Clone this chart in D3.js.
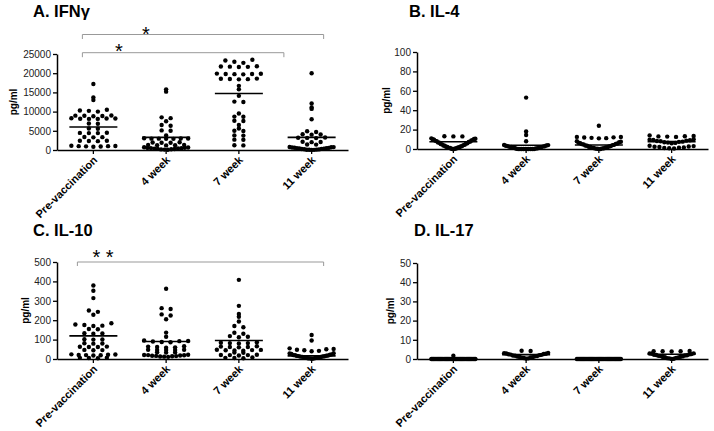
<!DOCTYPE html>
<html><head><meta charset="utf-8">
<script src="https://cdn.jsdelivr.net/npm/d3@7"></script>
<style>
body{margin:0;background:#fff}
svg{display:block;font-family:Arial,"Liberation Sans",Helvetica,sans-serif}
</style>
</head><body>
<svg id="chart" width="714" height="431"></svg>
<script>
// ---------------- DATA ----------------
const categories = ["Pre-vaccination", "4 week", "7 week", "11 week"];

// A. IFNγ (pg/ml)
const ifngPre = [17200, 13700, 13000, 10500, 10300, 10200, 10000, 9000, 8950, 8900, 8850, 8800,
  8250, 8200, 8200, 8150, 8100, 8100, 6900, 6850, 5600, 5550, 4500, 4450, 4400, 4400,
  3400, 3350, 3300, 2400, 2400, 2350, 2300, 1100, 1050, 1000, 1000, 950, 900, 850];
const ifng4wk = [15800, 15200, 8500, 8300, 7500, 6500, 6300, 5100, 5000, 3800,
  3050, 3000, 3000, 2950, 2950, 2900, 2900, 2000, 1950, 1900, 1900, 1300, 1300, 1250, 1250, 1200,
  700, 650, 600, 550, 500, 450, 400, 350, 300, 250, 200, 150, 100, 50];
const ifng7wk = [23500, 23300, 23000, 22700, 21800, 21750, 21700, 21650, 21600,
  19900, 19850, 19800, 19800, 19750, 19700, 18600, 18550, 18500, 18450, 18400,
  16700, 15800, 14100, 12600, 12500, 9500, 8700, 8650, 7600, 7550, 6500, 5600, 5000, 4950,
  3800, 3750, 2700, 2650, 1250, 1200];
const ifng11wk = [20000, 12100, 11100, 10700, 8000, 4900, 4700, 4100, 4050, 4000,
  3250, 3200, 3150, 3100, 2150, 2100, 2050, 1450, 1400,
  800, 750, 700, 650, 600, 550, 500, 450, 400, 350, 300, 250, 200, 150, 100, 80, 60, 40, 20];
const ifngLines = [6000, 3300, 14700, 3300];
const ifngTicks = [0, 5000, 10000, 15000, 20000, 25000];

// B. IL-4 (pg/ml)
const il4Pre = [0, 0, 0.3, 0.5, 0.8, 1, 1.2, 1.5, 1.8, 2, 2.3, 2.6, 3, 3.3, 3.6, 4, 4.4, 4.8, 5.2,
  5.6, 6, 6.4, 6.8, 7.2, 7.6, 8, 8.4, 8.8, 9.2, 9.6, 10, 10.3, 10.6, 11, 13, 13, 13.2];
const il44wk = [53, 18, 14.5, 8, 0, 0, 0, 0, 0, 0, 0, 0, 0, 0, 0.3, 0.5, 0.7, 1, 1.2, 1.5, 1.8,
  2, 2.2, 2.5, 2.8, 3, 3.3, 3.6, 4, 4.2];
const il47wk = [24, 12.5, 12.3, 12, 11.8, 11.5, 11.2, 11, 0, 0, 0.2, 0.4, 0.6, 0.8, 1, 1.2, 1.5,
  1.8, 2, 2.3, 2.6, 3, 3.3, 3.6, 4, 4.3, 4.6, 5, 5.3, 5.6, 6, 6.5, 7, 7.5, 8];
const il411wk = [14, 13.5, 13.2, 13, 12.8, 12.5, 6, 6.3, 6.6, 7, 7.3, 7.6, 8, 8.3, 8.6, 9, 9.3,
  9.6, 10, 0.5, 0.8, 1, 1.3, 1.6, 2, 2.3, 2.6, 3, 3.3];
const il4Lines = [7.5, 3.8, 4.1, 7.6];
const il4Ticks = [0, 20, 40, 60, 80, 100];

// C. IL-10 (pg/ml)
const il10Pre = [379, 352, 314, 250, 243, 228, 184, 178, 175, 172, 170, 155, 153, 133, 132, 130,
  102, 101, 100, 81, 80, 79, 64, 63, 62, 62, 47, 46, 45, 24, 23, 22, 21, 20, 19, 18, 7, 6, 5, 4];
const il104wk = [362, 262, 258, 230, 224, 205, 136, 115, 95, 93, 92, 90, 88, 86, 66, 64, 62, 60, 58,
  48, 47.5, 47, 46.5, 46, 35, 34, 33, 22, 21, 20, 19, 18, 17, 16, 15, 14, 13, 12, 11];
const il107wk = [408, 274, 232, 218, 193, 170, 164, 135, 130, 118, 115, 112, 86, 84, 82, 82, 80,
  66, 64, 62, 62, 60, 48, 47, 46, 45, 44, 43, 33, 32, 22, 21, 20, 20, 18, 8, 6, 5, 4];
const il1011wk = [124, 95, 55, 52, 50, 48, 45, 42, 40, 30, 28, 26, 24, 22, 20, 19, 18, 17, 16, 15,
  14, 13, 12, 11, 10, 9, 8, 7, 6, 5, 4, 3, 2, 1];
const il10Lines = [119, 90, 95, 16];
const il10Ticks = [0, 100, 200, 300, 400, 500];

// D. IL-17 (pg/ml)
const il17Pre = [1.7, 0, 0, 0, 0, 0, 0, 0, 0, 0, 0, 0, 0, 0, 0, 0, 0, 0, 0, 0, 0,
  0, 0, 0, 0, 0, 0, 0, 0, 0, 0, 0, 0, 0, 0, 0, 0, 0, 0, 0];
const il174wk = [4.2, 4.3, 0.2, 0.35, 0.5, 0.65, 0.8, 0.95, 1.1, 1.25, 1.4, 1.55, 1.7, 1.85, 2.0,
  2.15, 2.3, 2.45, 2.6, 2.75, 2.9, 3.05, 3.2];
const il177wk = [0, 0, 0, 0, 0, 0, 0, 0, 0, 0, 0, 0, 0, 0, 0, 0, 0, 0, 0, 0,
  0, 0, 0, 0, 0, 0, 0, 0, 0, 0, 0, 0, 0, 0, 0, 0, 0, 0, 0, 0];
const il1711wk = [3.9, 4.0, 4.0, 4.1, 4.2, 0, 0.15, 0.3, 0.45, 0.6, 0.75, 0.9, 1.05, 1.2, 1.35, 1.5,
  1.65, 1.8, 1.95, 2.1, 2.25, 2.4, 2.55, 2.7, 2.85, 2.95];
const il17Lines = [0, 2.3, 0, 2.5];
const il17Ticks = [0, 10, 20, 30, 40, 50];

// ---------------- LAYOUT ----------------
const panels = [
  { title: "A. IFNγ", groups: [ifngPre, ifng4wk, ifng7wk, ifng11wk], lines: ifngLines, ticks: ifngTicks,
    x0: 57, x1: 348, yTop: 54, yBot: 150, tx: 33, ty: 17, lx: 13,
    brackets: [
      { a: 0, b: 3, da: -11, db: 12, y: 34.5, drop: 4.5, label: "*", sx: 146, sy: 29.5 },
      { a: 0, b: 2, da: -11, db: 45, y: 52.7, drop: 4.5, label: "*", sx: 119, sy: 46.7 }
    ] },
  { title: "B. IL-4", groups: [il4Pre, il44wk, il47wk, il411wk], lines: il4Lines, ticks: il4Ticks,
    x0: 417, x1: 708, yTop: 52, yBot: 149, tx: 409, ty: 17, lx: 386, brackets: [] },
  { title: "C. IL-10", groups: [il10Pre, il104wk, il107wk, il1011wk], lines: il10Lines, ticks: il10Ticks,
    x0: 57, x1: 348, yTop: 262, yBot: 359, tx: 33, ty: 236, lx: 25,
    brackets: [
      { a: 0, b: 3, da: -16, db: 12, y: 262, drop: 4, label: "* *", sx: 103, sy: 252.5 }
    ] },
  { title: "D. IL-17", groups: [il17Pre, il174wk, il177wk, il1711wk], lines: il17Lines, ticks: il17Ticks,
    x0: 417, x1: 708, yTop: 263, yBot: 359, tx: 414, ty: 236, lx: 390, brackets: [] }
];

const R = 2.2;          // dot radius
const GAP = 1.5;        // px gap that splits clusters
const SMAX = 9;         // max horizontal spacing
const WMAX = 44;        // max cluster width

const svg = d3.select("#chart");

function layout(vals, y, cx) {
  const sorted = vals.slice().sort((a, b) => a - b);
  const clusters = [];
  let cur = [];
  sorted.forEach((v, i) => {
    if (i > 0 && (y(sorted[i - 1]) - y(v)) > GAP) { clusters.push(cur); cur = []; }
    cur.push(v);
  });
  if (cur.length) clusters.push(cur);
  const pts = [];
  clusters.forEach(cl => {
    const n = cl.length;
    const s = n > 1 ? Math.min(SMAX, WMAX / (n - 1)) : 0;
    const offs = d3.range(n).map(k => (k - (n - 1) / 2) * s);
    const pos = offs.filter(o => o > 1e-9).sort((a, b) => a - b);
    const neg = offs.filter(o => o < -1e-9).sort((a, b) => b - a);
    const zero = offs.filter(o => Math.abs(o) <= 1e-9);
    const order = zero.slice();
    for (let i = 0; i < pos.length; i++) {
      if (i % 2 === 0) { order.push(pos[i]); order.push(neg[i]); }
      else { order.push(neg[i]); order.push(pos[i]); }
    }
    cl.forEach((v, i) => pts.push({ x: cx + order[i], y: y(v) }));
  });
  return pts;
}

panels.forEach(p => {
  const g = svg.append("g");
  const x = d3.scaleBand().domain(categories).range([p.x0, p.x1]).padding(0);
  const yMax = p.ticks[p.ticks.length - 1];
  const y = d3.scaleLinear().domain([0, yMax]).range([p.yBot, p.yTop]);

  g.append("text").attr("x", p.tx).attr("y", p.ty).attr("font-size", 16.5).attr("font-weight", "bold")
    .attr("fill", "#000").text(p.title);

  const ya = g.append("g").attr("transform", `translate(${p.x0},0)`)
    .call(d3.axisLeft(y).tickValues(p.ticks).tickSize(4).tickSizeOuter(0).tickPadding(2).tickFormat(d3.format("d")));
  ya.select(".domain").attr("stroke", "#000").attr("stroke-width", 1.5);
  ya.selectAll(".tick line").attr("stroke", "#000").attr("stroke-width", 1.3);
  ya.selectAll(".tick text").attr("font-size", 10).attr("fill", "#222")
    .attr("font-family", "Arial, 'Liberation Sans', sans-serif");

  g.append("text").attr("transform", `translate(${p.lx},${(p.yTop + p.yBot) / 2}) rotate(-90)`)
    .attr("text-anchor", "middle").attr("dy", "0.35em").attr("font-size", 10).attr("font-weight", "bold")
    .text("pg/ml");

  const xa = g.append("g").attr("transform", `translate(0,${p.yBot})`)
    .call(d3.axisBottom(x).tickSize(4).tickSizeOuter(0).tickFormat(""));
  xa.select(".domain").attr("stroke", "#000").attr("stroke-width", 1.5);
  xa.selectAll(".tick line").attr("stroke", "#000").attr("stroke-width", 1.3);
  g.selectAll(".xlab").data(categories).enter().append("text")
    .attr("transform", d => `translate(${x(d) + x.bandwidth() / 2 + 2},${p.yBot + 8}) rotate(-45)`)
    .attr("text-anchor", "end").attr("dy", "0.35em").attr("font-size", 11).attr("font-weight", "bold")
    .text(d => d);

  p.groups.forEach((vals, i) => {
    const cx = x(categories[i]) + x.bandwidth() / 2;
    const pts = layout(vals, y, cx);
    g.selectAll(null).data(pts).enter().append("circle")
      .attr("cx", d => d.x).attr("cy", d => d.y).attr("r", R).attr("fill", "#000");
    g.append("line").attr("x1", cx - 24).attr("x2", cx + 24)
      .attr("y1", y(p.lines[i])).attr("y2", y(p.lines[i]))
      .attr("stroke", "#000").attr("stroke-width", 1.6);
  });

  p.brackets.forEach(b => {
    const xa_ = x(categories[b.a]) + x.bandwidth() / 2 + b.da;
    const xb_ = x(categories[b.b]) + x.bandwidth() / 2 + b.db;
    g.append("path")
      .attr("d", `M${xa_},${b.y + b.drop}V${b.y}H${xb_}V${b.y + b.drop}`)
      .attr("fill", "none").attr("stroke", "#999").attr("stroke-width", 1);
    g.append("text").attr("x", b.sx).attr("y", b.sy).attr("dy", "0.55em")
      .attr("text-anchor", "middle").attr("font-size", 20).attr("fill", "#000").text(b.label);
  });
});
</script>
</body></html>
